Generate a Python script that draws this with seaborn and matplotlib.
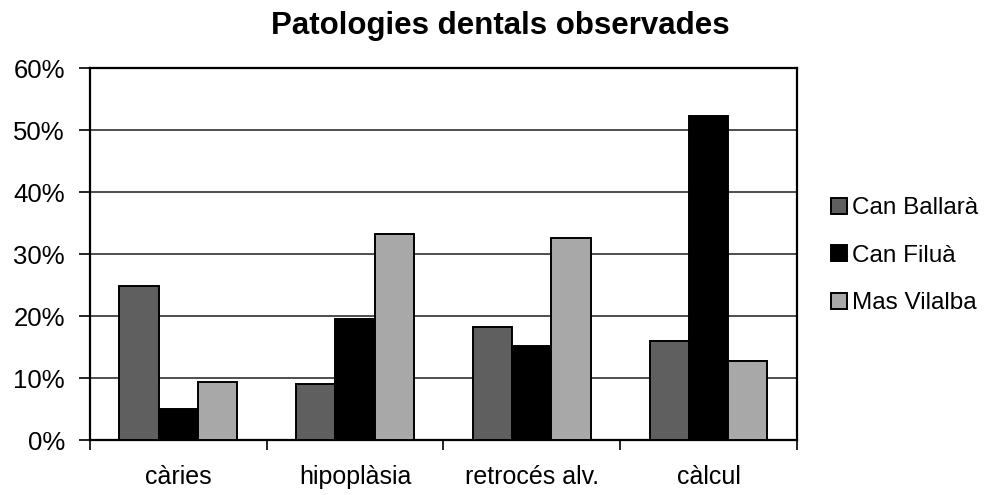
import matplotlib
matplotlib.use("Agg")
import matplotlib.pyplot as plt
from matplotlib.ticker import FixedLocator, PercentFormatter
import pandas as pd
import seaborn as sns

categories = ["càries", "hipoplàsia", "retrocés alv.", "càlcul"]
sites = ["Can Ballarà", "Can Filuà", "Mas Vilalba"]
can_ballara = [24.9, 9.1, 18.2, 15.9]
can_filua = [5.0, 19.5, 15.2, 52.3]
mas_vilalba = [9.4, 33.3, 32.6, 12.8]
y_ticks = [0, 10, 20, 30, 40, 50, 60]

colors = ["#5f5f5f", "#000000", "#a8a8a8"]

df = pd.DataFrame({
    "patologia": categories * 3,
    "jaciment": [s for s in sites for _ in categories],
    "valor": can_ballara + can_filua + mas_vilalba,
})

sns.set_style("white")
plt.rcParams["font.family"] = ["Liberation Sans", "DejaVu Sans"]
plt.rcParams["text.color"] = "black"
plt.rcParams["xtick.color"] = "black"
plt.rcParams["ytick.color"] = "black"

fig = plt.figure(figsize=(9.97, 4.95), dpi=100)
ax = fig.add_axes([0.0903, 0.111, 0.709, 0.7516])

sns.barplot(
    data=df, x="patologia", y="valor", hue="jaciment",
    order=categories, hue_order=sites, palette=colors,
    width=0.667, edgecolor="black", linewidth=1.4,
    saturation=1, errorbar=None, ax=ax, zorder=3,
)

ax.set_xlim(-0.5, len(categories) - 0.5)
ax.set_ylim(0, 60)
ax.set_yticks(y_ticks)
ax.yaxis.set_major_formatter(PercentFormatter(decimals=0))
ax.grid(axis="y", color="#303030", linewidth=1.2, zorder=0)
ax.set_axisbelow(True)

# tick marks between categories, labels centred
ax.xaxis.set_minor_locator(FixedLocator([i - 0.5 for i in range(len(categories) + 1)]))
ax.tick_params(axis="x", which="major", length=0, pad=18, labelsize=18)
ax.tick_params(axis="x", which="minor", length=7, width=1.2, color="black", direction="out", bottom=True)
ax.tick_params(axis="y", length=8, width=1.2, color="black", direction="out", left=True, pad=10, labelsize=18.5)

for spine in ax.spines.values():
    spine.set_color("black")
    spine.set_linewidth(1.6)

ax.set_xlabel("")
ax.set_ylabel("")

ax.get_legend().remove()
handles = [plt.Rectangle((0, 0), 1, 1, facecolor=c, edgecolor="black", linewidth=1.4) for c in colors]
fig.legend(
    handles, sites, loc="center left", bbox_to_anchor=(0.812, 0.483),
    frameon=False, fontsize=17.5, handlelength=0.65, handleheight=0.65,
    handletextpad=0.2, labelspacing=1.05,
)

fig.suptitle("Patologies dentals observades", x=0.502, y=0.978, fontsize=22.5, fontweight="bold")

fig.savefig("out.png", dpi=100)
